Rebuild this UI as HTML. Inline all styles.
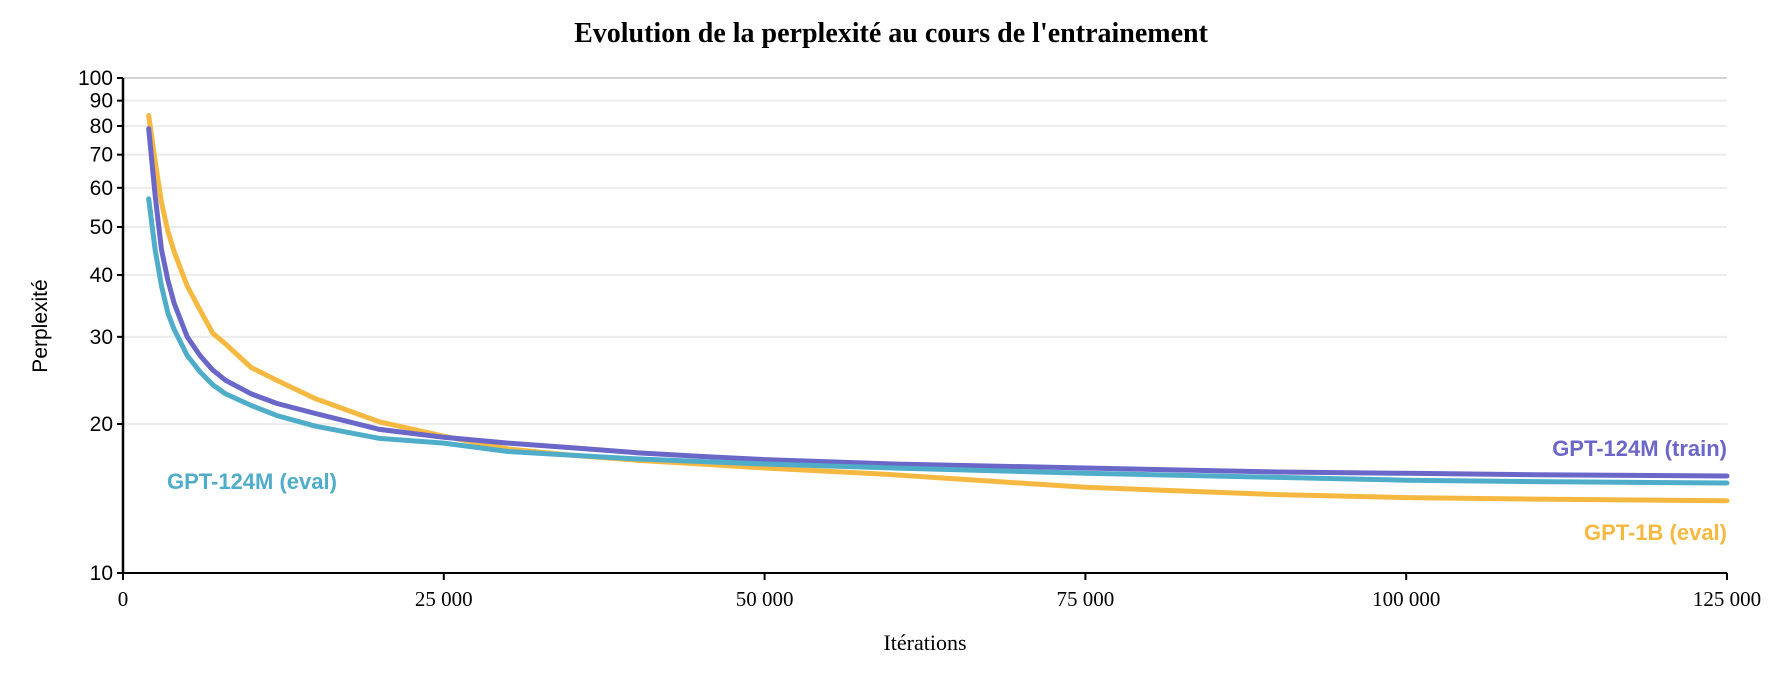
<!DOCTYPE html>
<html><head><meta charset="utf-8"><style>
html,body{margin:0;padding:0;background:#fff;width:1782px;height:680px;overflow:hidden}
svg{display:block}
</style></head><body>
<svg id="chart" width="1782" height="680" viewBox="0 0 1782 680" xmlns="http://www.w3.org/2000/svg">
<text x="891" y="42" text-anchor="middle" font-family="Liberation Serif, serif" font-weight="bold" font-size="28">Evolution de la perplexité au cours de l'entrainement</text>
<g id="grid"></g>
<g id="axes"></g>
<g id="series"></g>
<text x="925" y="650" text-anchor="middle" font-family="Liberation Serif, serif" font-size="22">Itérations</text>
<text transform="translate(47,326) rotate(-90)" text-anchor="middle" font-family="Liberation Sans, sans-serif" font-size="21">Perplexité</text>
<text x="1727" y="456" text-anchor="end" font-family="Liberation Sans, sans-serif" font-weight="bold" font-size="22" fill="#6a67c9">GPT-124M (train)</text>
<text x="167" y="489" font-family="Liberation Sans, sans-serif" font-weight="bold" font-size="22" fill="#4fadc9">GPT-124M (eval)</text>
<text x="1727" y="540" text-anchor="end" font-family="Liberation Sans, sans-serif" font-weight="bold" font-size="22" fill="#f5b942">GPT-1B (eval)</text>
</svg>
<script>
const iters = [2000,2500,3000,3500,4000,5000,6000,7000,8000,10000,12000,15000,20000,25000,30000,35000,40000,45000,50000,60000,75000,90000,100000,110000,125000];
const trainVals = [79,58,45,39,35,30,27.5,25.7,24.5,23,22,21,19.5,18.8,18.3,17.9,17.5,17.2,16.95,16.6,16.3,16.0,15.9,15.8,15.7];
const eval124Vals = [57,45,38,33.5,31,27.5,25.5,24,23,21.8,20.8,19.8,18.7,18.3,17.6,17.3,17.0,16.8,16.6,16.3,15.9,15.6,15.4,15.3,15.2];
const eval1bVals = [84,68,56,49,44.5,38,34,30.5,29,26,24.5,22.5,20.2,18.9,17.8,17.3,16.9,16.6,16.3,15.8,14.9,14.4,14.2,14.1,14.0];
const yTicks = [10,20,30,40,50,60,70,80,90,100];
const xTicks = [0,25000,50000,75000,100000,125000];
const xTickLabels = ['0','25 000','50 000','75 000','100 000','125 000'];

const X0=123,X1=1727,Y10=573,Y100=78;
const xs=v=>X0+(v/125000)*(X1-X0);
const ys=v=>Y10-Math.log10(v/10)*(Y10-Y100);
const NS='http://www.w3.org/2000/svg';
function mk(tag,attrs,parent){const e=document.createElementNS(NS,tag);for(const k in attrs)e.setAttribute(k,attrs[k]);parent.appendChild(e);return e;}
const grid=document.getElementById('grid'),axes=document.getElementById('axes'),series=document.getElementById('series');
yTicks.forEach(t=>{
  const y=ys(t);
  if(t>10){const g=mk('line',{x1:X0,x2:X1,y1:y,y2:y,stroke:t===100?'#d4d4d4':'#ececec','stroke-width':2},grid);
  
  }
  mk('line',{x1:X0-6,x2:X0,y1:y,y2:y,stroke:'#000','stroke-width':2},axes);
  const tx=mk('text',{x:X0-10,y:y+7,'text-anchor':'end','font-family':'Liberation Sans, sans-serif','font-size':21},axes);
  tx.textContent=t;
  
  
});
xTicks.forEach((t,i)=>{
  const x=xs(t);
  mk('line',{x1:x,x2:x,y1:Y10,y2:Y10+7,stroke:'#000','stroke-width':2},axes);
  const tx=mk('text',{x:x,y:Y10+33,'text-anchor':'middle','font-family':'Liberation Serif, serif','font-size':21},axes);
  tx.textContent=xTickLabels[i];
  
  
});
mk('line',{x1:X0,x2:X0,y1:Y100,y2:Y10,stroke:'#000','stroke-width':2.5},axes);
mk('line',{x1:X0,x2:X1,y1:Y10,y2:Y10,stroke:'#000','stroke-width':2},axes);
function drawLine(vals,color,name){
  const d=vals.map((v,i)=>(i?'L':'M')+xs(iters[i]).toFixed(1)+','+ys(v).toFixed(1)).join(' ');
  const p=mk('path',{d:d,fill:'none',stroke:color,'stroke-width':5,'stroke-linejoin':'round','stroke-linecap':'round'},series);
  
  
}
drawLine(eval1bVals,'#f5b942','line-gpt1b-eval');
drawLine(trainVals,'#6a67c9','line-gpt124m-train');
drawLine(eval124Vals,'#4fadc9','line-gpt124m-eval');
</script>
</body></html>
